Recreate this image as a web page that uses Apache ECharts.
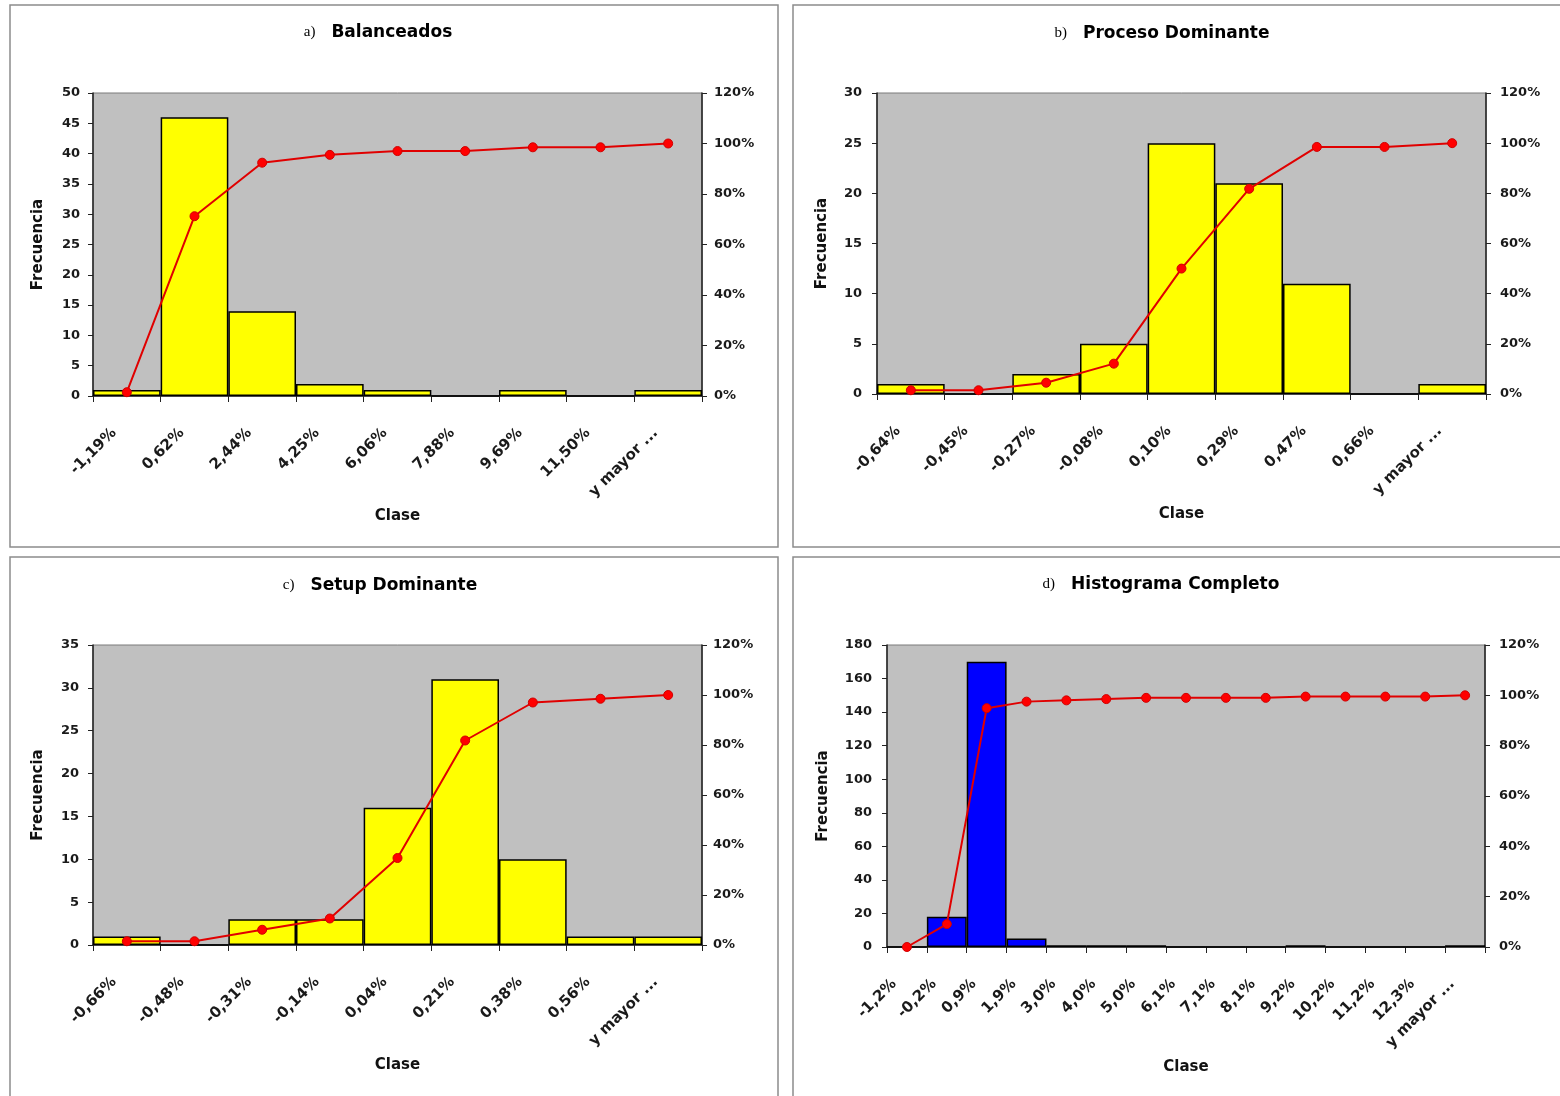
<!DOCTYPE html>
<html>
<head>
<meta charset="utf-8">
<script src="https://cdn.jsdelivr.net/npm/echarts@6/dist/echarts.min.js"></script>
<style>
  html, body { margin: 0; padding: 0; background: #ffffff; }
  #chart { width: 1560px; height: 1096px; }
</style>
</head>
<body>
<div id="chart"></div>
<script>
// a) Balanceados
const classesA = ['-1,19%', '0,62%', '2,44%', '4,25%', '6,06%', '7,88%', '9,69%', '11,50%', 'y mayor ...'];
const freqA = [1, 46, 14, 2, 1, 0, 1, 0, 1];
const cumA = [1.5, 71.2, 92.4, 95.5, 97.0, 97.0, 98.5, 98.5, 100];

// b) Proceso Dominante
const classesB = ['-0,64%', '-0,45%', '-0,27%', '-0,08%', '0,10%', '0,29%', '0,47%', '0,66%', 'y mayor ...'];
const freqB = [1, 0, 2, 5, 25, 21, 11, 0, 1];
const cumB = [1.5, 1.5, 4.5, 12.1, 50.0, 81.8, 98.5, 98.5, 100];

// c) Setup Dominante
const classesC = ['-0,66%', '-0,48%', '-0,31%', '-0,14%', '0,04%', '0,21%', '0,38%', '0,56%', 'y mayor ...'];
const freqC = [1, 0, 3, 3, 16, 31, 10, 1, 1];
const cumC = [1.5, 1.5, 6.1, 10.6, 34.8, 81.8, 97.0, 98.5, 100];

// d) Histograma Completo
const classesD = ['-1,2%', '-0,2%', '0,9%', '1,9%', '3,0%', '4,0%', '5,0%', '6,1%', '7,1%', '8,1%', '9,2%', '10,2%', '11,2%', '12,3%', 'y mayor ...'];
const freqD = [0, 18, 170, 5, 1, 1, 1, 0, 0, 0, 1, 0, 0, 0, 1];
const cumD = [0, 9.1, 94.9, 97.5, 98.0, 98.5, 99.0, 99.0, 99.0, 99.0, 99.5, 99.5, 99.5, 99.5, 100];

// Axis ranges
const freqAxisA = { max: 50, interval: 5 };
const freqAxisB = { max: 30, interval: 5 };
const freqAxisC = { max: 35, interval: 5 };
const freqAxisD = { max: 180, interval: 20 };
const pctAxis = { max: 120, interval: 20 };

const FONT = 'DejaVu Sans';

const panels = [
  { tag: 'a)', title: 'Balanceados', classes: classesA, freq: freqA, cum: cumA, yr: freqAxisA,
    grid: { left: 93, top: 93, width: 609, height: 303 }, box: [10, 5, 768, 542],
    titlePos: [378, 33], yGap: 47, xGap: 113, lm: 13, rm: 12, barColor: '#FFFF00' },
  { tag: 'b)', title: 'Proceso Dominante', classes: classesB, freq: freqB, cum: cumB, yr: freqAxisB,
    grid: { left: 877, top: 93, width: 609, height: 301 }, box: [793, 5, 790, 542],
    titlePos: [1162, 34], yGap: 47, xGap: 113, lm: 15, rm: 14, barColor: '#FFFF00' },
  { tag: 'c)', title: 'Setup Dominante', classes: classesC, freq: freqC, cum: cumC, yr: freqAxisC,
    grid: { left: 93, top: 645, width: 609, height: 300 }, box: [10, 557, 768, 560],
    titlePos: [380, 586], yGap: 47, xGap: 113, lm: 14, rm: 11, barColor: '#FFFF00' },
  { tag: 'd)', title: 'Histograma Completo', classes: classesD, freq: freqD, cum: cumD, yr: freqAxisD,
    grid: { left: 887, top: 645, width: 598, height: 302 }, box: [793, 557, 790, 560],
    titlePos: [1161, 585], yGap: 56, xGap: 113, lm: 15, rm: 14, barColor: '#0000FF' }
];

const grids = [], xAxes = [], yAxes = [], series = [], graphics = [];

panels.forEach((p, i) => {
  grids.push(Object.assign({
    show: true, backgroundColor: '#C0C0C0', borderColor: '#7a7a7a', borderWidth: 1
  }, p.grid));

  xAxes.push({
    type: 'category', gridIndex: i, data: p.classes,
    boundaryGap: true,
    name: 'Clase', nameLocation: 'middle', nameGap: p.xGap,
    nameTextStyle: { fontFamily: FONT, fontWeight: 'bold', fontSize: 15, color: '#111' },
    axisLine: { lineStyle: { color: '#222', width: 1.5 } },
    axisTick: { show: true, length: 6, lineStyle: { color: '#222', width: 1 } },
    axisLabel: {
      interval: 0, rotate: 45, margin: 22, padding: [0, 18, 0, 0],
      fontFamily: FONT, fontWeight: 'bold', fontSize: 15, color: '#1a1a1a'
    },
    splitLine: { show: false }
  });

  yAxes.push({
    type: 'value', gridIndex: i, position: 'left', min: 0,
    max: p.yr.max, interval: p.yr.interval,
    name: 'Frecuencia', nameLocation: 'middle', nameGap: p.yGap,
    nameTextStyle: { fontFamily: FONT, fontWeight: 'bold', fontSize: 15, color: '#111' },
    axisLine: { show: true, lineStyle: { color: '#222', width: 1.5 } },
    axisTick: { show: true, length: 5, lineStyle: { color: '#222' } },
    axisLabel: { margin: p.lm, fontFamily: FONT, fontWeight: 'bold', fontSize: 13, color: '#1a1a1a' },
    splitLine: { show: false }
  });

  yAxes.push({
    type: 'value', gridIndex: i, position: 'right', min: 0,
    max: pctAxis.max, interval: pctAxis.interval,
    axisLine: { show: true, lineStyle: { color: '#222', width: 1.5 } },
    axisTick: { show: true, length: 5, lineStyle: { color: '#222' } },
    axisLabel: { margin: p.rm, formatter: '{value}%', fontFamily: FONT, fontWeight: 'bold', fontSize: 13, color: '#1a1a1a' },
    splitLine: { show: false }
  });

  series.push({
    type: 'bar', xAxisIndex: i, yAxisIndex: i * 2, data: p.freq,
    barCategoryGap: '0%',
    itemStyle: { color: p.barColor, borderColor: '#000', borderWidth: 1.5 },
    silent: true, animation: false
  });

  series.push({
    type: 'line', xAxisIndex: i, yAxisIndex: i * 2 + 1, data: p.cum,
    symbol: 'circle', symbolSize: 9,
    lineStyle: { color: '#E00000', width: 2 },
    itemStyle: { color: '#FF0000', borderColor: '#D00000', borderWidth: 1 },
    silent: true, animation: false, z: 5
  });

  graphics.push({
    type: 'rect', silent: true, z: -1,
    shape: { x: p.box[0], y: p.box[1], width: p.box[2], height: p.box[3] },
    style: { fill: 'none', stroke: '#8c8c8c', lineWidth: 1.5 }
  });

  graphics.push({
    type: 'text', silent: true,
    x: p.titlePos[0], y: p.titlePos[1],
    style: {
      text: '{t|' + p.tag + '}{h|' + p.title + '}',
      align: 'center', verticalAlign: 'middle',
      rich: {
        t: { fontFamily: 'Liberation Serif', fontSize: 15, color: '#444', padding: [0, 16, 2, 0] },
        h: { fontFamily: FONT, fontWeight: 'bold', fontSize: 17, color: '#111' }
      }
    }
  });
});

const chart = echarts.init(document.getElementById('chart'), null, { renderer: 'canvas' });
chart.setOption({
  animation: false,
  backgroundColor: '#ffffff',
  grid: grids,
  xAxis: xAxes,
  yAxis: yAxes,
  series: series,
  graphic: graphics
});
</script>
</body>
</html>
